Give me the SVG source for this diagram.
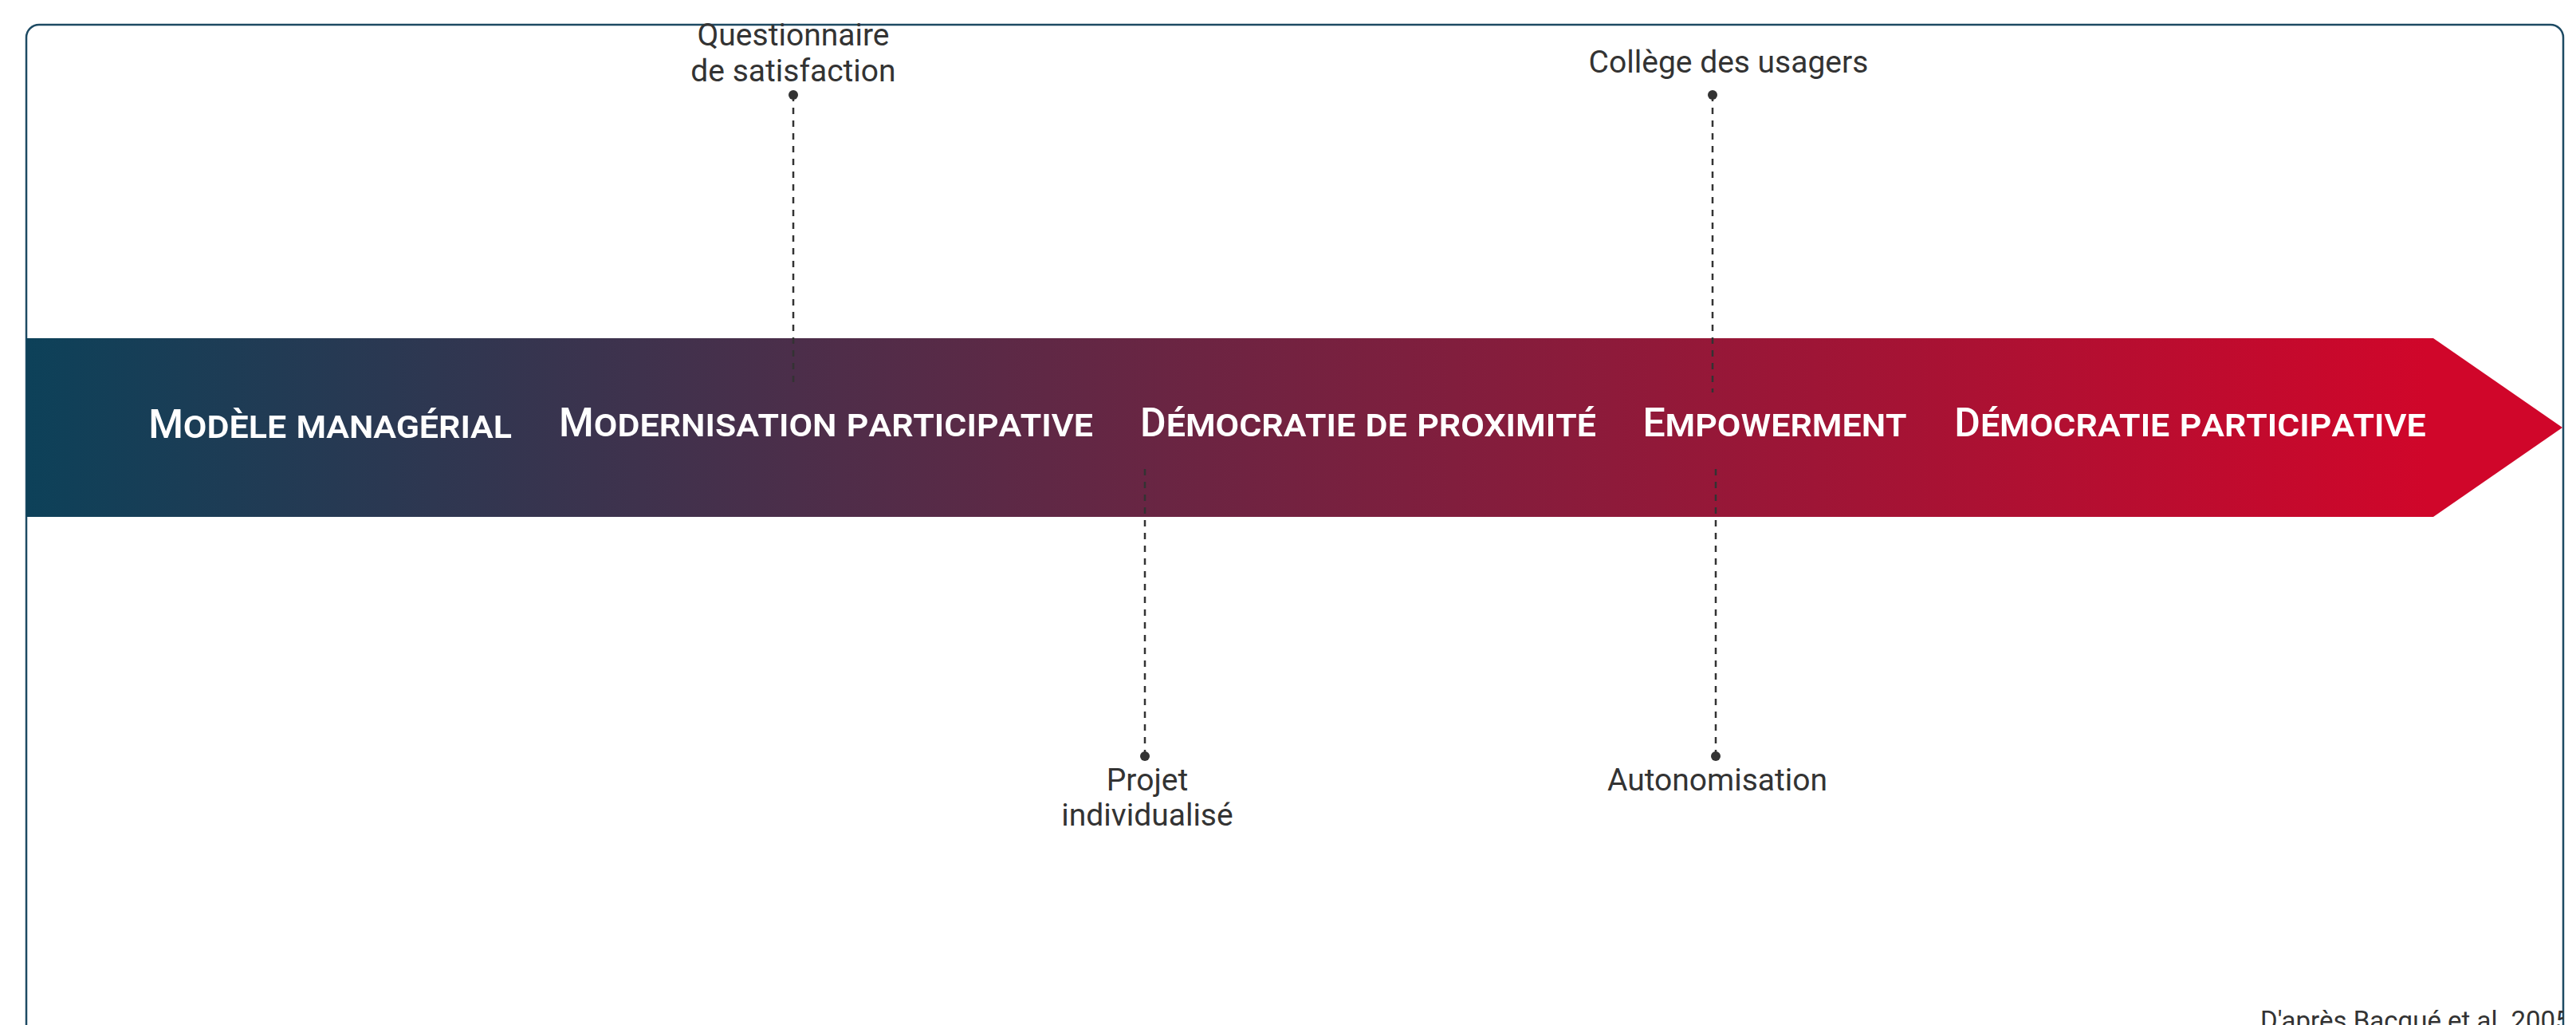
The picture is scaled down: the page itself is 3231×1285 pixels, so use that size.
<svg xmlns="http://www.w3.org/2000/svg" width="3231" height="1285" viewBox="0 0 3231 1285">
<style>
.band{font-family:Roboto,"Liberation Sans",sans-serif;font-size:50px;font-weight:500;fill:#ffffff;font-variant:small-caps;text-anchor:middle}
.lbl{font-family:Roboto,"Liberation Sans",sans-serif;font-size:39px;fill:#333333;text-anchor:middle}
.src{font-family:Roboto,"Liberation Sans",sans-serif;font-size:33px;fill:#333333}
.conn{stroke:#333333;stroke-width:2.5;stroke-dasharray:8 8;fill:none}
.dot{fill:#333333}
</style>
<defs>
<linearGradient id="g" gradientUnits="userSpaceOnUse" x1="33" y1="0" x2="3045" y2="0">
<stop offset="0" stop-color="#0d4159"/>
<stop offset="1" stop-color="#d0062a"/>
</linearGradient>
<clipPath id="frameClip"><rect x="33" y="31" width="3182" height="1320" rx="16"/></clipPath>
</defs>
<rect id="frame" x="33" y="31" width="3182" height="1320" rx="16" fill="#ffffff" stroke="#1d4a63" stroke-width="2.5"/>
<g id="arrow"><polygon points="33,424 3052,424 3214,536 3052,648 33,648" fill="url(#g)"/></g>
<g id="connectors">
<line class="conn" x1="995" y1="119" x2="995" y2="486"/>
<line class="conn" x1="2148" y1="119" x2="2148" y2="492"/>
<line class="conn" x1="1436" y1="948" x2="1436" y2="588"/>
<line class="conn" x1="2152" y1="948" x2="2152" y2="588"/>
<circle class="dot" cx="995" cy="119" r="6"/>
<circle class="dot" cx="2148" cy="119" r="6"/>
<circle class="dot" cx="1436" cy="948" r="6"/>
<circle class="dot" cx="2152" cy="948" r="6"/>
</g>
<g id="stage-1"><text class="band" x="414" y="549">Modèle managérial</text></g>
<g id="stage-2"><text class="band" x="1036" y="547">Modernisation participative</text></g>
<g id="stage-3"><text class="band" x="1716" y="547">Démocratie de proximité</text></g>
<g id="stage-4"><text class="band" x="2226" y="547">Empowerment</text></g>
<g id="stage-5"><text class="band" x="2747" y="547">Démocratie participative</text></g>
<g id="note-questionnaire"><text class="lbl" x="995" y="57">Questionnaire</text><text class="lbl" x="995" y="102">de satisfaction</text></g>
<g id="note-college"><text class="lbl" x="2168" y="91">Collège des usagers</text></g>
<g id="note-projet"><text class="lbl" x="1439" y="991">Projet</text><text class="lbl" x="1439" y="1035">individualisé</text></g>
<g id="note-autonomisation"><text class="lbl" x="2154" y="991">Autonomisation</text></g>
<g id="source" clip-path="url(#frameClip)"><text class="src" x="2835" y="1291">D'après Bacqué et al. 2005</text></g>
</svg>
